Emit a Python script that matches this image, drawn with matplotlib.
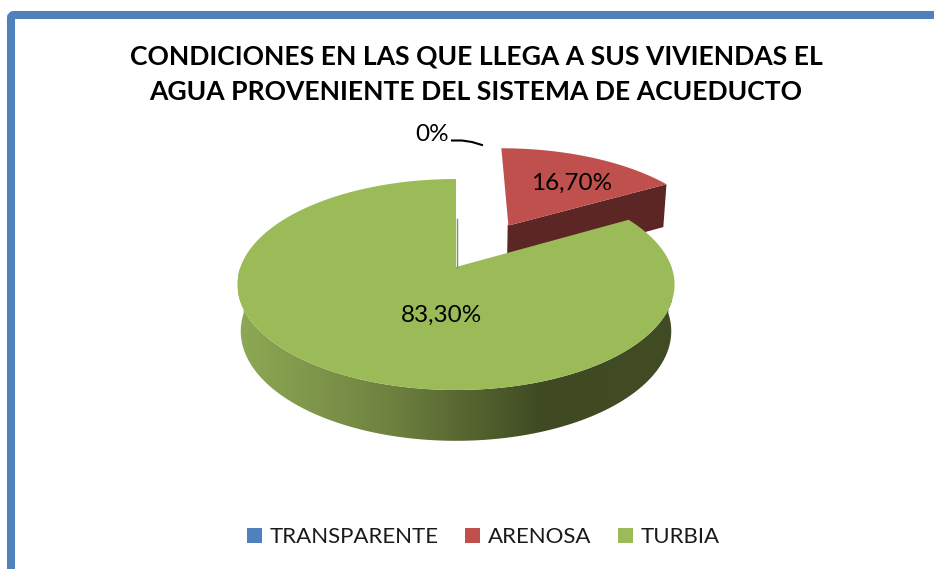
import numpy as np
import matplotlib
matplotlib.use("Agg")
import matplotlib.pyplot as plt
from matplotlib.colors import LinearSegmentedColormap
from matplotlib.patches import FancyBboxPatch, Polygon, Patch

plt.rcParams['font.family'] = ['Lato', 'DejaVu Sans']

title = "CONDICIONES EN LAS QUE LLEGA A SUS VIVIENDAS EL\nAGUA PROVENIENTE DEL SISTEMA DE ACUEDUCTO"
categories = ["TRANSPARENTE", "ARENOSA", "TURBIA"]
values = [0, 16.7, 83.3]
labels = ["0%", "16,70%", "83,30%"]
colors = ["#4f81bd", "#c0504d", "#9bbb59"]


def to_screen(u, v, low=False):
    """plan du camembert -> pixels, avec un peu de perspective"""
    s = 1 + 0.166 * v
    scale = 0.985 if low else 1.0
    x = 456 + 215.5 * scale * u / s
    y = 267 - 102.6 * v / s
    if low:
        y = y + 46 - 4 * v / s
    return x, y


def wedge_rim(a1, a2, off=(0, 0), low=False):
    t = np.radians(np.linspace(a1, a2, 200))
    return to_screen(off[0] + np.cos(t), off[1] + np.sin(t), low)


fig = plt.figure(figsize=(9.34, 5.69), dpi=100)
ax = fig.add_axes([0, 0, 1, 1])
ax.axis("off")

ax.add_patch(FancyBboxPatch((11, 15), 1000, 700, boxstyle="round,pad=0,rounding_size=3",
                            fc="white", ec=colors[0], lw=5.8))

# angles des parts, en partant du haut et dans le sens horaire
a_top = 90
a_red = a_top - values[1] * 3.6
a_mid = np.radians((a_top + a_red) / 2 - 1)
explode = 0.505
off = (explode * np.cos(a_mid), explode * np.sin(a_mid))

# part rouge (detachee)
ax0, ay0 = to_screen(off[0], off[1])
bx0, by0 = to_screen(off[0], off[1], low=True)
rx, ry = wedge_rim(a_top, a_red, off)
lx, ly = wedge_rim(a_red, a_red, off, low=True)
ax.add_patch(Polygon([(ax0, ay0), (rx[-1], ry[-1]), (lx[-1], ly[-1]), (bx0, by0)], fc="#5c2624", ec="none"))
ax.plot([ax0, bx0], [ay0, by0], color="#5c2624", lw=1)
ax.add_patch(Polygon(np.r_[[[ax0, ay0]], np.c_[rx, ry]], fc=colors[1], ec="none"))

# flanc de la part verte, degrade horizontal
tx, ty = wedge_rim(180, 360)
bx, by = wedge_rim(360, 180, low=True)
side = Polygon(np.c_[np.r_[tx, bx], np.r_[ty, by]], fc="none", ec="none")
ax.add_patch(side)
cmap = LinearSegmentedColormap.from_list("flanc", [(0, "#8ea954"), (0.35, "#6f8240"), (0.7, "#3f4a22"), (1, "#414c24")])
grad = ax.imshow(np.linspace(0, 1, 256).reshape(1, -1), extent=(238, 672, 569, 0), cmap=cmap, aspect="auto", zorder=1.5)
grad.set_clip_path(side)

# dessus de la part verte
gx0, gy0 = to_screen(0, 0)
gx, gy = wedge_rim(a_red, a_top - 360)
ax.add_patch(Polygon(np.r_[[[gx0, gy0]], np.c_[gx, gy]], fc=colors[2], ec="none", zorder=2))
ax.plot([gx0 + 1, gx[-1] + 1], [gy0, gy[-1] + 40], color="#7c9646", lw=1, zorder=2)

ax.text(572, 183, labels[1], ha="center", va="center", fontsize=17.5, color="black", zorder=3)
ax.text(442, 315, labels[2], ha="center", va="center", fontsize=17.5, color="black", zorder=3)
ax.text(432, 134, labels[0], ha="center", va="center", fontsize=17.5, color="black", zorder=3)
ax.plot([452, 462, 472, 482], [140.5, 140.5, 142, 145], color="black", lw=1.5, zorder=3)

ax.text(476, 74.5, title, ha="center", va="center", fontsize=19.1, fontweight="bold", color="black", linespacing=1.57)

handles = [Patch(fc=c, ec="none") for c in colors]
ax.legend(handles, categories, ncol=3, loc="center", bbox_to_anchor=(483.5 / 934, 1 - 537 / 569), frameon=False,
          fontsize=16, handlelength=0.65, handleheight=0.65, handletextpad=0.36, columnspacing=1.2, labelcolor="#1a1a1a")

ax.set_xlim(0, 934)
ax.set_ylim(569, 0)
fig.savefig("out.png", dpi=100)
plt.close()
